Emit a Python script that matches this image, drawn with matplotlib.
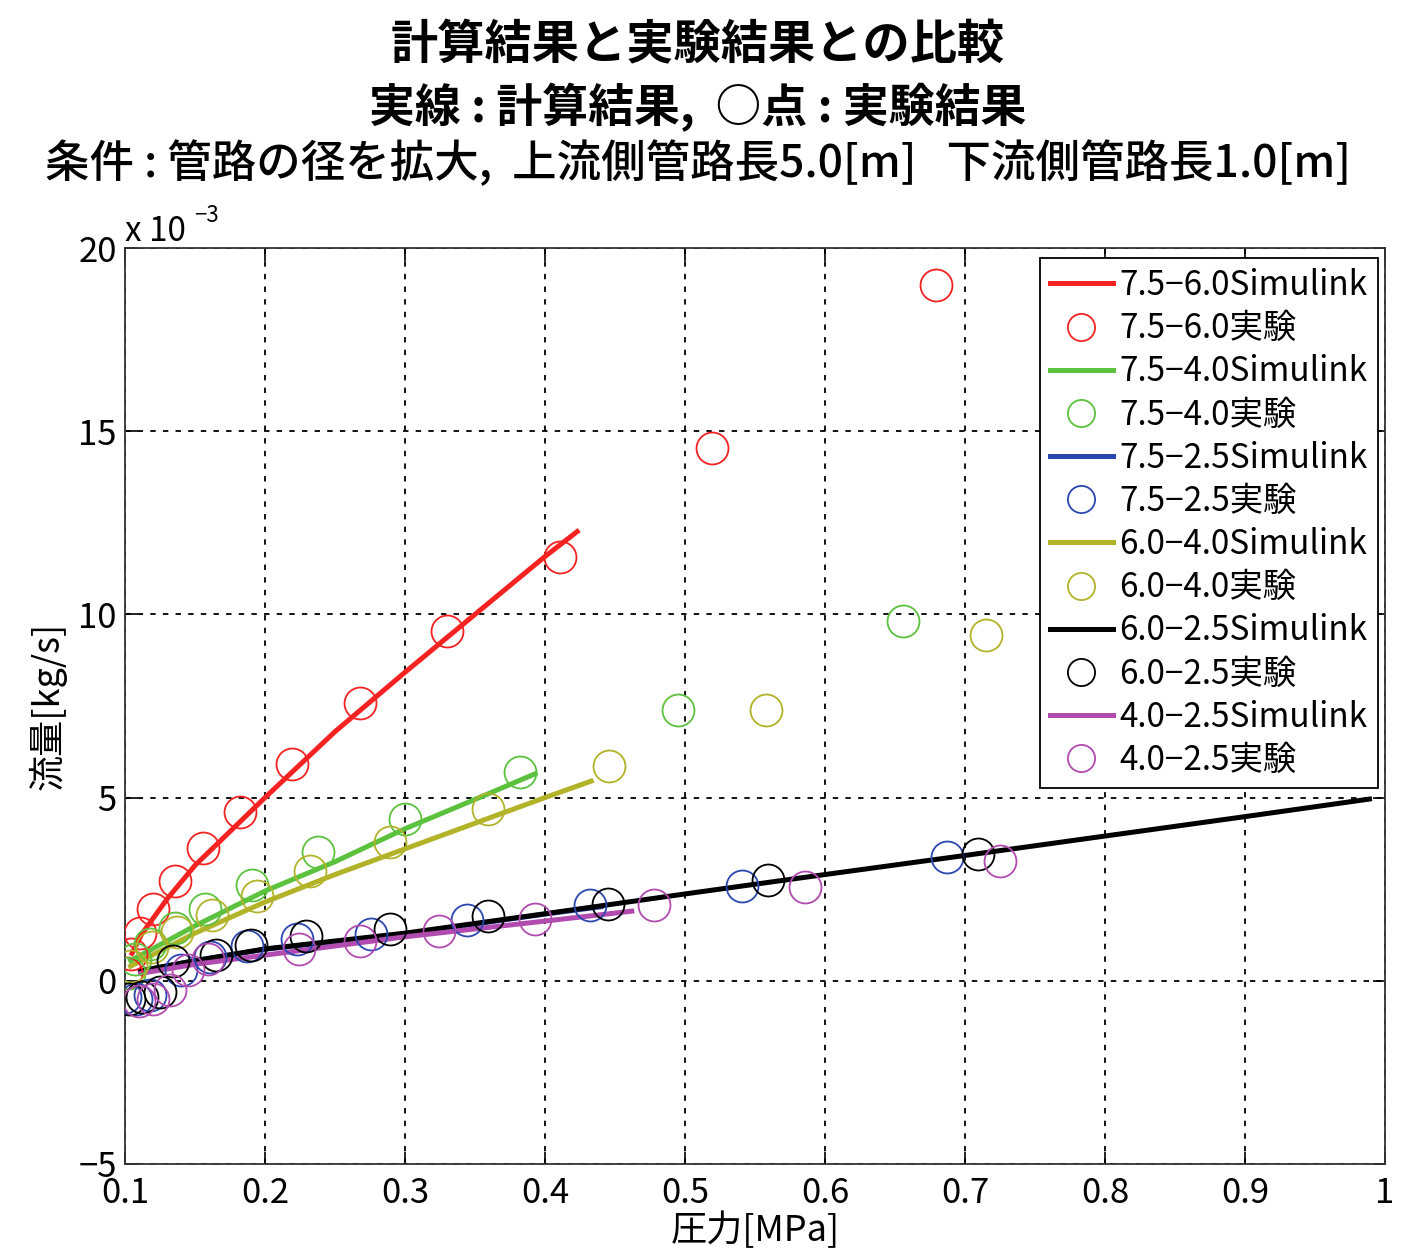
import matplotlib
matplotlib.use("Agg")
import matplotlib.pyplot as plt

plt.rcParams['font.family'] = ['Noto Sans CJK JP', 'DejaVu Sans']

# ---- data (flow in 1e-3 kg/s, pressure in MPa) ----
labels = ["7.5−6.0", "7.5−4.0", "7.5−2.5", "6.0−4.0", "6.0−2.5", "4.0−2.5"]
colors = ["#f52222", "#5cc23e", "#2a47b0", "#b3b32a", "#000000", "#b24bb0"]

# simulation lines
sim_red_x = [0.105, 0.112, 0.130, 0.150, 0.200, 0.250, 0.300, 0.350, 0.400, 0.423]
sim_red_y = [0.75, 1.28, 2.23, 3.15, 5.00, 6.80, 8.42, 10.00, 11.58, 12.26]
sim_green_x = [0.104, 0.150, 0.200, 0.250, 0.300, 0.350, 0.393]
sim_green_y = [0.55, 1.50, 2.45, 3.25, 4.15, 4.95, 5.65]
sim_blue_x = [0.111, 0.150, 0.200, 0.300, 0.400, 0.440]
sim_blue_y = [0.27, 0.55, 0.86, 1.28, 1.82, 2.02]
sim_olive_x = [0.104, 0.150, 0.200, 0.250, 0.300, 0.350, 0.400, 0.433]
sim_olive_y = [0.40, 1.30, 2.15, 2.90, 3.60, 4.30, 5.00, 5.45]
sim_black_x = [0.111, 0.150, 0.200, 0.300, 0.400, 0.500, 0.600, 0.700, 0.800, 0.900, 0.989]
sim_black_y = [0.27, 0.55, 0.87, 1.30, 1.83, 2.37, 2.90, 3.42, 3.95, 4.48, 4.96]
sim_mag_x = [0.111, 0.150, 0.200, 0.300, 0.400, 0.462]
sim_mag_y = [0.20, 0.45, 0.70, 1.20, 1.63, 1.90]

# experiment points
exp_red_x = [0.101, 0.104, 0.111, 0.120, 0.136, 0.156, 0.182, 0.219, 0.268, 0.330, 0.411, 0.519, 0.679]
exp_red_y = [0.20, 0.74, 1.31, 1.96, 2.72, 3.62, 4.60, 5.91, 7.57, 9.54, 11.58, 14.55, 19.00]
exp_green_x = [0.103, 0.107, 0.118, 0.136, 0.157, 0.191, 0.238, 0.300, 0.382, 0.495, 0.656]
exp_green_y = [0.20, 0.60, 1.00, 1.44, 1.96, 2.62, 3.51, 4.41, 5.69, 7.38, 9.81]
exp_blue_x = [0.100, 0.108, 0.118, 0.140, 0.161, 0.187, 0.223, 0.276, 0.344, 0.432, 0.541, 0.687]
exp_blue_y = [-0.45, -0.50, -0.40, 0.30, 0.65, 0.95, 1.14, 1.28, 1.66, 2.07, 2.59, 3.38]
exp_olive_x = [0.104, 0.119, 0.137, 0.162, 0.194, 0.232, 0.289, 0.359, 0.446, 0.558, 0.715]
exp_olive_y = [0.40, 0.93, 1.34, 1.80, 2.32, 3.00, 3.79, 4.69, 5.86, 7.38, 9.43]
exp_black_x = [0.103, 0.112, 0.125, 0.134, 0.165, 0.190, 0.229, 0.289, 0.359, 0.445, 0.559, 0.709]
exp_black_y = [-0.50, -0.45, -0.30, 0.55, 0.70, 0.98, 1.23, 1.40, 1.77, 2.10, 2.75, 3.46]
exp_mag_x = [0.110, 0.120, 0.132, 0.145, 0.159, 0.224, 0.268, 0.324, 0.393, 0.478, 0.586, 0.725]
exp_mag_y = [-0.55, -0.50, -0.25, 0.30, 0.60, 0.87, 1.09, 1.36, 1.69, 2.07, 2.56, 3.27]

sims = [(sim_red_x, sim_red_y), (sim_green_x, sim_green_y), (sim_blue_x, sim_blue_y),
        (sim_olive_x, sim_olive_y), (sim_black_x, sim_black_y), (sim_mag_x, sim_mag_y)]
exps = [(exp_red_x, exp_red_y), (exp_green_x, exp_green_y), (exp_blue_x, exp_blue_y),
        (exp_olive_x, exp_olive_y), (exp_black_x, exp_black_y), (exp_mag_x, exp_mag_y)]

xticks = [0.1, 0.2, 0.3, 0.4, 0.5, 0.6, 0.7, 0.8, 0.9, 1.0]
xticklabels = ["0.1", "0.2", "0.3", "0.4", "0.5", "0.6", "0.7", "0.8", "0.9", "1"]
yticks = [-5, 0, 5, 10, 15, 20]

fig = plt.figure(figsize=(14.16, 12.57), dpi=100)
ax = fig.add_axes([0.0883, 0.074, 0.8897, 0.7287])

for lab, c, (sx, sy), (ex, ey) in zip(labels, colors, sims, exps):
    ax.plot(sx, sy, color=c, lw=3.6, label=lab + "Simulink", zorder=3)
    ax.plot(ex, ey, 'o', mfc='none', mec=c, mew=1.3, ms=23, label=lab + "実験", zorder=4)

ax.set_xlim(0.1, 1.0)
ax.set_ylim(-5, 20)
ax.set_xticks(xticks)
ax.set_xticklabels(xticklabels)
ax.set_yticks(yticks)
ax.tick_params(direction='in', length=9, width=1.2, top=True, right=True,
               labelsize=25)
ax.tick_params(axis='x', pad=9)
ax.tick_params(axis='y', pad=6)
ax.grid(True, color='black', linestyle=(0, (3, 4)), lw=1.3)
for s in ax.spines.values():
    s.set_linewidth(1.3)
    s.set_color('#333333')

ax.set_xlabel("圧力[MPa]", fontsize=26, labelpad=0)
ax.set_ylabel("流量[kg/s]", fontsize=26, labelpad=8)

fig.text(0.0883, 0.808, "x 10", fontsize=24, ha='left', va='baseline')
fig.text(0.137, 0.823, "−3", fontsize=16, ha='left', va='baseline')

fig.text(0.493, 0.964, "計算結果と実験結果との比較", fontsize=34, fontweight='bold',
         ha='center', va='center')
fig.text(0.493, 0.9145, "実線 : 計算結果,  ○点 : 実験結果", fontsize=33, fontweight='bold',
         ha='center', va='center')
fig.text(0.493, 0.870, "条件 : 管路の径を拡大,  上流側管路長5.0[m]   下流側管路長1.0[m]",
         fontsize=32, fontweight='medium', ha='center', va='center')

leg = ax.legend(loc='upper right', bbox_to_anchor=(0.9945, 0.989), fontsize=24,
                frameon=True, fancybox=False, edgecolor='black', framealpha=1,
                handlelength=1.9, handletextpad=0.2, labelspacing=0.245,
                borderpad=0.3, borderaxespad=0, markerscale=0.85)
leg.get_frame().set_linewidth(1.3)

fig.savefig("out.png", dpi=100)
